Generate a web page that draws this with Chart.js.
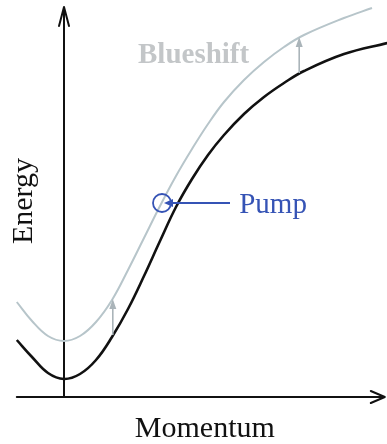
<!DOCTYPE html>
<html>
<head>
<meta charset="utf-8">
<script src="https://cdn.jsdelivr.net/npm/chart.js@4/dist/chart.umd.min.js"></script>
<style>
  html, body { margin: 0; padding: 0; background: #fff; }
  #wrap { width: 387px; height: 444px; position: relative; }
</style>
</head>
<body>
<div id="wrap"><canvas id="disp"></canvas></div>
<script>
// lower polariton branch (before pumping)
const lowerK = [-0.59, -0.4, -0.2, 0, 0.2, 0.4, 0.6, 0.8, 1.0, 1.2, 1.4, 1.6, 1.8, 2.0, 2.25, 2.5, 2.75, 3.0, 3.5, 4.04];
const lowerE = [0.57, 0.40, 0.24, 0.18, 0.23, 0.37, 0.60, 0.88, 1.21, 1.56, 1.90, 2.18, 2.42, 2.62, 2.83, 3.00, 3.14, 3.26, 3.43, 3.54];

// blueshifted branch
const shiftedK = [-0.59, -0.4, -0.2, 0, 0.2, 0.4, 0.6, 0.8, 1.0, 1.2, 1.4, 1.6, 1.8, 2.0, 2.25, 2.5, 2.75, 3.0, 3.5, 3.85];
const shiftedE = [0.95, 0.76, 0.61, 0.56, 0.61, 0.75, 0.97, 1.27, 1.59, 1.91, 2.21, 2.48, 2.73, 2.95, 3.17, 3.35, 3.50, 3.62, 3.79, 3.89];

// vertical shift arrows: momentum, from energy, to energy
const shiftArrowK = [0.61, 2.94];
const shiftArrowFrom = [0.62, 3.24];
const shiftArrowTo = [0.98, 3.60];

// pump spot on the dispersion
const pumpK = 1.225;
const pumpE = 1.94;

// axis extents
const axisK = [-0.59, 4.01];
const axisE = [0, 3.9];

const SERIF = '"Liberation Serif", "Times New Roman", serif';

function toXY(ks, es) {
  return ks.map((k, i) => ({ x: k, y: es[i] }));
}

function arrowHead(ctx, x, y, ang, len, half) {
  ctx.beginPath();
  ctx.moveTo(x, y);
  ctx.lineTo(x - len * Math.cos(ang) + half * Math.sin(ang), y - len * Math.sin(ang) - half * Math.cos(ang));
  ctx.lineTo(x - len * Math.cos(ang) - half * Math.sin(ang), y - len * Math.sin(ang) + half * Math.cos(ang));
  ctx.closePath();
  ctx.fill();
}

const axesPlugin = {
  id: 'axesArrows',
  beforeDatasetsDraw(chart) {
    const { ctx, scales: { x, y } } = chart;
    const x0 = x.getPixelForValue(0), y0 = y.getPixelForValue(0);
    const xl = x.getPixelForValue(axisK[0]), xr = x.getPixelForValue(axisK[1]);
    const yt = y.getPixelForValue(axisE[1]);
    ctx.save();
    ctx.strokeStyle = '#111';
    ctx.lineWidth = 2;
    ctx.lineCap = 'round';
    ctx.lineJoin = 'round';
    ctx.beginPath();
    ctx.moveTo(xl, y0); ctx.lineTo(xr, y0);
    ctx.moveTo(x0, y0); ctx.lineTo(x0, yt);
    // open chevrons on both axes
    ctx.moveTo(x0 - 5, yt + 19); ctx.lineTo(x0, yt); ctx.lineTo(x0 + 5, yt + 19);
    ctx.moveTo(xr - 14, y0 - 6); ctx.lineTo(xr, y0); ctx.lineTo(xr - 14, y0 + 6);
    ctx.stroke();

    ctx.fillStyle = '#111';
    ctx.font = '30px ' + SERIF;
    ctx.textAlign = 'center';
    ctx.textBaseline = 'alphabetic';
    ctx.fillText('Momentum', x.getPixelForValue(1.76), y.getPixelForValue(-0.40));
    ctx.save();
    ctx.translate(x.getPixelForValue(-0.4), y.getPixelForValue(1.96));
    ctx.rotate(-Math.PI / 2);
    ctx.fillText('Energy', 0, 0);
    ctx.restore();
    ctx.restore();
  },
  afterDatasetsDraw(chart) {
    const { ctx, scales: { x, y } } = chart;
    ctx.save();

    // blueshift arrows
    ctx.strokeStyle = '#aab4b9';
    ctx.fillStyle = '#aab4b9';
    ctx.lineWidth = 1.6;
    shiftArrowK.forEach((k, i) => {
      const px = x.getPixelForValue(k);
      const pb = y.getPixelForValue(shiftArrowFrom[i]);
      const pt = y.getPixelForValue(shiftArrowTo[i]);
      ctx.beginPath();
      ctx.moveTo(px, pb); ctx.lineTo(px, pt + 6);
      ctx.stroke();
      arrowHead(ctx, px, pt, -Math.PI / 2, 10, 3.5);
    });

    ctx.font = 'bold 29px ' + SERIF;
    ctx.fillStyle = '#c3c6c8';
    ctx.textAlign = 'left';
    ctx.fillText('Blueshift', x.getPixelForValue(0.925), y.getPixelForValue(3.34));

    // pump marker
    const cx = x.getPixelForValue(pumpK), cy = y.getPixelForValue(pumpE);
    ctx.strokeStyle = '#3553b5';
    ctx.fillStyle = '#3553b5';
    ctx.lineWidth = 1.8;
    ctx.beginPath();
    ctx.arc(cx, cy, 9, 0, Math.PI * 2);
    ctx.stroke();
    const ax = x.getPixelForValue(2.075);
    ctx.beginPath();
    ctx.moveTo(ax, cy); ctx.lineTo(cx + 9, cy);
    ctx.stroke();
    arrowHead(ctx, cx + 2, cy, Math.PI, 9, 4);
    ctx.font = '29px ' + SERIF;
    ctx.fillText('Pump', x.getPixelForValue(2.19), y.getPixelForValue(1.84));
    ctx.restore();
  }
};

new Chart(document.getElementById('disp'), {
  type: 'scatter',
  data: {
    datasets: [
      {
        label: 'Blueshifted',
        data: toXY(shiftedK, shiftedE),
        showLine: true,
        borderColor: '#b7c5ca',
        borderWidth: 2,
        pointRadius: 0,
        tension: 0.4
      },
      {
        label: 'Lower branch',
        data: toXY(lowerK, lowerE),
        showLine: true,
        borderColor: '#111',
        borderWidth: 2.6,
        pointRadius: 0,
        tension: 0.4
      }
    ]
  },
  options: {
    responsive: true,
    maintainAspectRatio: false,
    animation: false,
    layout: { padding: 0 },
    plugins: {
      legend: { display: false },
      tooltip: { enabled: false }
    },
    scales: {
      x: { type: 'linear', min: -0.8, max: 4.0375, display: false },
      y: { type: 'linear', min: -0.47, max: 3.97, display: false }
    }
  },
  plugins: [axesPlugin]
});
</script>
</body>
</html>
